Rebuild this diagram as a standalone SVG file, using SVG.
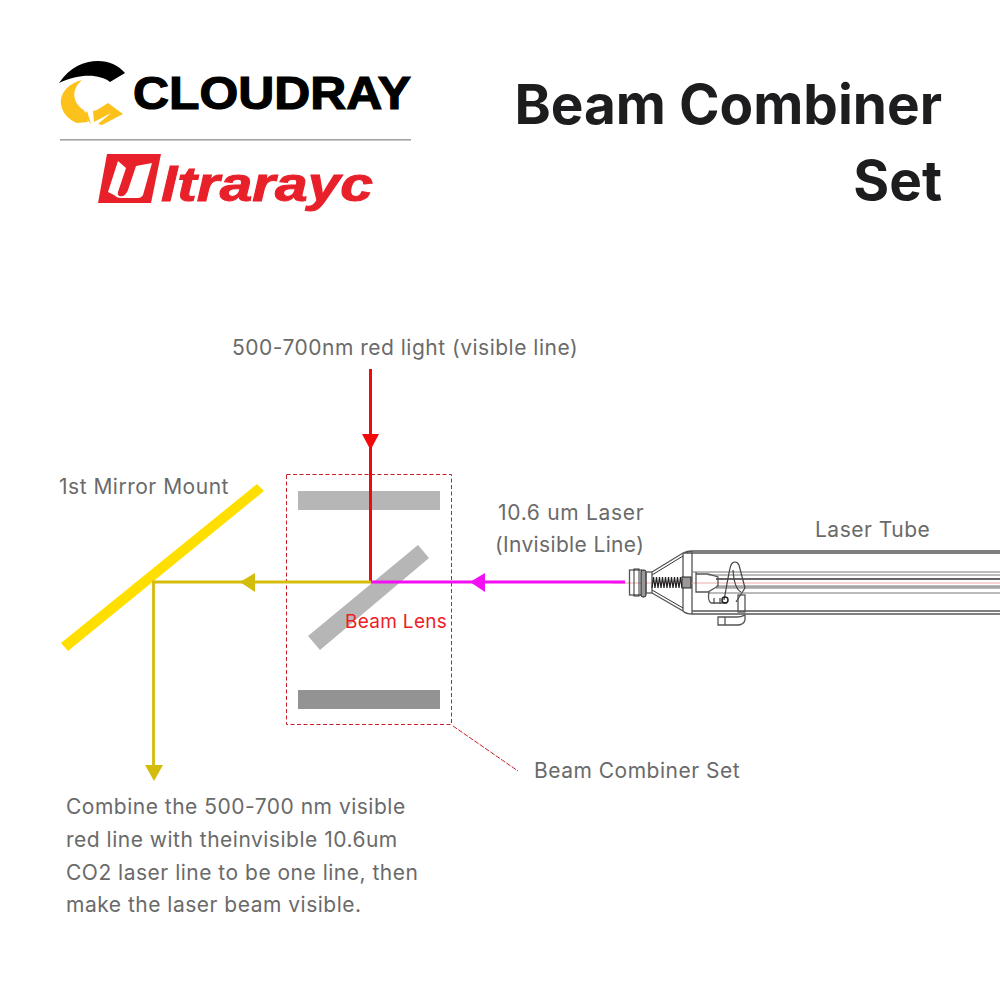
<svg xmlns="http://www.w3.org/2000/svg" width="1000" height="1000" viewBox="0 0 1000 1000">
<style>
text{font-family:"Inter","Noto Sans","Liberation Sans",sans-serif}
.lbl{font-size:21px;fill:#6a6a6a;letter-spacing:.5px}
.ttl{font-size:54.900px;font-weight:700;fill:#1d1d1f;text-anchor:end}
.t{fill:none;stroke:#333;stroke-width:1}
.t2{fill:none;stroke:#555;stroke-width:1.3}
</style>
<rect width="1000" height="1000" fill="#fff"/>
<g id="logo-cloudray">
<path d="M59 83 C70 67 84 61 98 61 C109 61 118 65 125 73 L110 82 C100 74 80 73 59 83Z" fill="#000"/>
<path d="M82 80 C66 84 60 95 61 104 C62 113 69 120 77 123 L88 122 L84 110 C76 106 68 92 82 80Z" fill="#fcc21b"/>
<path d="M108 103 L123 114 L102 125 L98 124 L111 113 L94 122 L93 111 L97 110Z M87 111 L91 124 L83 115Z" fill="#fcc21b"/>
<text x="133" y="109" font-size="46" font-weight="700" style="font-family:'Liberation Sans',sans-serif" fill="#000" stroke="#000" stroke-width="1.200" textLength="278" lengthAdjust="spacingAndGlyphs">CLOUDRAY</text>
<rect x="60" y="139" width="351" height="1.6" fill="#a3a3a3"/>
</g>
<g id="logo-ultrarayc">
<path d="M107 154 H161 L151 203 H98Z" fill="#e8202a"/>
<path d="M118 161 L126 168 L118 192 C117 196 120 197 123 196 C127 194 128 190 129 187 L136 166 L152 163 L143 195 C142 197 140 198 138 198 H121 C118 198 116 197 114 195 L108 192Z" fill="#fff"/>
<text x="161" y="201" font-size="49" font-weight="700" font-style="italic" style="font-family:'Liberation Sans',sans-serif" fill="#e8202a" stroke="#e8202a" stroke-width="1" textLength="212" lengthAdjust="spacingAndGlyphs">ltrarayc</text>
</g>
<g id="title">
<text class="ttl" x="942" y="124">Beam Combiner</text>
<text class="ttl" x="942" y="200">Set</text>
</g>
<g id="beam-combiner-set">
<rect x="286.500" y="474.500" width="165" height="250" fill="none" stroke="#c8202a" stroke-width="1" stroke-dasharray="4 2.500"/>
<rect x="298" y="491" width="142" height="19" fill="#b7b6b6"/>
<rect x="298" y="690" width="142" height="19" fill="#939393"/>
<polygon points="418,545 429,558 320,650 308,636" fill="#b7b6b6"/>
<text x="345" y="628" font-size="19" fill="#ee1c25" style="letter-spacing:.3px">Beam Lens</text>
</g>
<g id="mirror-mount">
<polygon points="257,484 264,491 68,651 61,643" fill="#ffdf00"/>
<text class="lbl" x="59" y="494">1st Mirror Mount</text>
</g>
<g id="laser-tube">
<path class="t2" d="M1000 551 H692 C689 551 685 552 683 553 L652 572 M1000 553 H683 M1000 614 H692 C688 614 685 613 683 611 L652 593 M692 551 V614 M683 553 V611 M1000 611 H692"/>
<path class="t" d="M652 575 L683 556 M652 590 L683 608"/>
<path d="M692 572 H1000 M708 575 H1000 M708 593 H1000" stroke="#777" stroke-width="1" fill="none"/>
<path d="M716 579 H1000" stroke="#666" stroke-width="1.800"/>
<path d="M612 583 H1000" stroke="#eaa" stroke-width="1"/>
<path d="M716 587 H1000" stroke="#a5a5a5" stroke-width="3.500"/>
<rect x="629.500" y="570" width="12" height="25" class="t2"/>
<rect x="634" y="569" width="5" height="27" class="t"/>
<rect x="641" y="570" width="5" height="27" rx="2" fill="#999" stroke="#222"/>
<rect x="646" y="572" width="6" height="21" class="t2"/>
<path d="M652 588 L653.500 577 L655 588 L656.500 577 L658 588 L659.500 577 L661 588 L662.500 577 L664 588 L665.500 577 L667 588 L668.500 577 L670 588 L671.500 577 L673 588 L674.500 577 L676 588 L677.500 577 L679 588 L680.500 577 L682 588" fill="none" stroke="#222" stroke-width="1.200"/>
<rect x="682" y="577" width="9" height="11" fill="#999" stroke="#222"/>
<path class="t2" d="M696 572 V592 H708 L718 586 V577 L708 574 H696"/>
<path d="M724 600 C727 585 729 570 731 565 C733 561 737 561 739 565 L745 588 L736 602 M733 570 C734 585 737 590 741 592" fill="none" stroke="#444" stroke-width="1.200"/>
<path class="t2" d="M709 592 C708 597 708 601 711 603 H727 M714 598 V604 M720 598 V604"/>
<circle cx="725" cy="600" r="3" fill="none" stroke="#222" stroke-width="1.500"/>
<rect x="738" y="595" width="7" height="17" class="t2"/>
<path class="t2" d="M718 617 H737 C743 617 744 615 745 615 V620 C744 624 741 625 737 625 H718Z M725 617 V625"/>
<text class="lbl" x="815" y="537">Laser Tube</text>
</g>
<g id="connectors" fill="none">
<path d="M370.500 369 V581" stroke="#f00a0a" stroke-width="3"/>
<polygon points="362,434 379,434 370.500,450" fill="#f00a0a"/>
<path d="M371 582 H625" stroke="#f30ef3" stroke-width="3"/>
<polygon points="485,573 485,592 470,582" fill="#f30ef3"/>
<path d="M371 582 H153.500 V770" stroke="#d4bc0d" stroke-width="2.800"/>
<polygon points="255,573 255,592 240,582" fill="#d4bc0d"/>
<polygon points="145,765 163,765 154,781" fill="#d4bc0d"/>
<path d="M453 726 L518 771" stroke="#c8202a" stroke-width="1" stroke-dasharray="5 1.500"/>
</g>
<g id="labels">
<text class="lbl" x="232" y="355">500-700nm red light (visible line)</text>
<text class="lbl" x="498" y="520" style="letter-spacing:.7px">10.6 um Laser</text>
<text class="lbl" x="495" y="552" style="letter-spacing:.35px">(Invisible Line)</text>
<text class="lbl" x="534" y="778">Beam Combiner Set</text>
<text class="lbl" x="66" y="814">Combine the 500-700 nm visible</text>
<text class="lbl" x="66" y="847">red line with theinvisible 10.6um</text>
<text class="lbl" x="66" y="880">CO2 laser line to be one line, then</text>
<text class="lbl" x="66" y="912">make the laser beam visible.</text>
</g>
</svg>
